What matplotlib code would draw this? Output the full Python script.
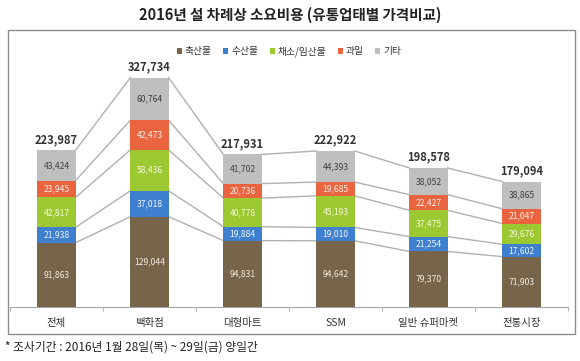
import matplotlib.pyplot as plt
from matplotlib.patches import Rectangle
import numpy as np

plt.rcParams['font.family'] = ['Noto Sans CJK KR', 'DejaVu Sans']

categories = ['전체', '백화점', '대형마트', 'SSM', '일반 슈퍼마켓', '전통시장']
series_names = ['축산물', '수산물', '채소/임산물', '과일', '기타']
meat = [91863, 129044, 94831, 94642, 79370, 71903]
fish = [21938, 37018, 19884, 19010, 21254, 17602]
veg = [42817, 58436, 40778, 45193, 37475, 29676]
fruit = [23945, 42473, 20736, 19685, 22427, 21047]
other = [43424, 60764, 41702, 44393, 38052, 38865]
totals = [223987, 327734, 217931, 222922, 198578, 179094]

series = [meat, fish, veg, fruit, other]
colors = ['#76654a', '#3f7fd0', '#9cc932', '#ea6440', '#bfbfbf']
label_colors = ['#f3eadc', '#eef4ff', '#f6f8d8', '#fff0e8', '#404040']

fig = plt.figure(figsize=(5.8, 3.61), dpi=100)
fig.patch.set_facecolor('white')

# outer chart frame
fig.patches.append(Rectangle((8 / 580, 1 - 334 / 361), 567 / 580, 304 / 361,
                             transform=fig.transFigure, fill=False,
                             edgecolor='#8c8c8c', linewidth=1.0))

ax = fig.add_axes([10 / 580, 1 - 307 / 361, 558 / 580, 245 / 361])
x = np.arange(len(categories))
w = 0.41

bottom = np.zeros(len(categories))
for vals, name, col, lc in zip(series, series_names, colors, label_colors):
    vals = np.array(vals)
    ax.bar(x, vals, w, bottom=bottom, color=col, label=name, zorder=3)
    for xi, b, v in zip(x, bottom, vals):
        ax.text(xi, b + v / 2, f'{v:,}', ha='center', va='center',
                fontsize=6.2, color=lc, zorder=4)
    bottom = bottom + vals

# connecting lines between segment tops
cum = np.cumsum(np.array(series), axis=0)
for level in cum:
    for i in range(len(categories) - 1):
        ax.plot([x[i] + w / 2, x[i + 1] - w / 2], [level[i], level[i + 1]],
                color='#b0b0b0', linewidth=1.0, zorder=2)

for xi, t in zip(x, totals):
    ax.text(xi, t + 6000, f'{t:,}', ha='center', va='bottom',
            fontsize=8, fontweight='bold', color='#333333')

ax.set_xlim(-0.5, len(categories) - 0.5)
ax.set_ylim(0, 350000)
ax.set_yticks([])
ax.set_xticks(x)
ax.set_xticklabels(categories, fontsize=7.5, color='#333333')
ax.tick_params(axis='x', length=0, pad=8)
ax.set_xticks(np.arange(-0.5, len(categories)), minor=True)
ax.tick_params(axis='x', which='minor', length=3, color='#a6a6a6', direction='out')
for s in ['top', 'right', 'left']:
    ax.spines[s].set_visible(False)
ax.spines['bottom'].set_color('#a6a6a6')

leg = ax.legend(loc='upper center', bbox_to_anchor=(0.5, 1.1), ncol=5,
                frameon=False, fontsize=7, handlelength=0.5, handleheight=0.5,
                handletextpad=0.3, columnspacing=1.2)
for t in leg.get_texts():
    t.set_color('#333333')

fig.text(0.5, 1 - 15 / 361, '2016년 설 차례상 소요비용 (유통업태별 가격비교)',
         ha='center', va='center', fontsize=10.5, fontweight='bold', color='#222222')
fig.text(5 / 580, 1 - 347 / 361, '* 조사기간 : 2016년 1월 28일(목) ~ 29일(금) 양일간',
         ha='left', va='center', fontsize=8.5, color='#222222')

fig.savefig('out.png', dpi=100)
